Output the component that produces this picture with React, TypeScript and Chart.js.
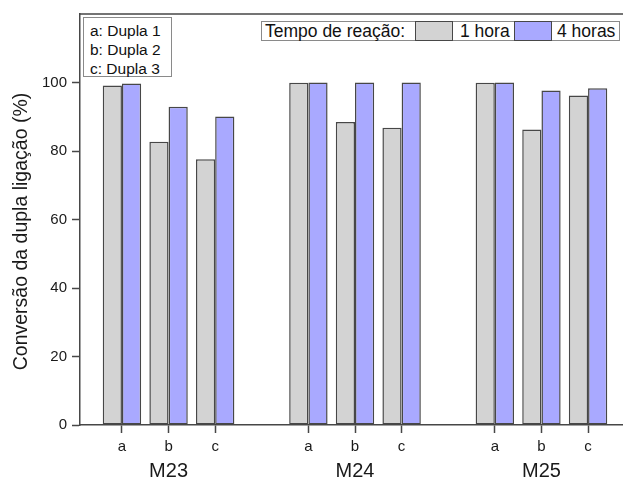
import React, { useEffect, useRef } from 'react';
import { Chart, registerables } from 'chart.js';

Chart.register(...registerables);

// Monomer groups and the three double-bond positions inside each
const groups = ['M23', 'M24', 'M25'];
const pairs = ['a', 'b', 'c'];
const pairNames = ['Dupla 1', 'Dupla 2', 'Dupla 3'];
const seriesNames = ['1 hora', '4 horas'];
const legendTitle = 'Tempo de reação:';
const yTitle = 'Conversão da dupla ligação (%)';

// Conversion (%) per bar, ordered M23 a,b,c / M24 a,b,c / M25 a,b,c
const conversion1h = [99.1, 82.7, 77.6, 99.9, 88.5, 86.8, 99.9, 86.3, 96.2];
const conversion4h = [99.7, 92.9, 90.1, 100, 100, 100, 100, 97.7, 98.3];
const yTicks = [0, 20, 40, 60, 80, 100];

const FONT = '"Liberation Sans", Arial, Helvetica, sans-serif';
const GRAY = '#d3d3d3';
const BLUE = '#a9a9ff';
const EDGE = '#474747';
const TEXT = '#1a1a1a';

// x slot of each bar pair: one empty slot separates the groups
const slotOf = (i: number) => Math.floor(i / pairs.length) * (pairs.length + 1) + (i % pairs.length);
const barSlots = conversion1h.map((_, i) => slotOf(i));
const groupSlots = groups.map((_, g) => g * (pairs.length + 1) + 1);
const X_MIN = -0.9;
const X_MAX = barSlots[barSlots.length - 1] + 0.9;

const framePlugin = {
  id: 'frame',
  afterDatasetsDraw(chart: any) {
    const { ctx, chartArea } = chart;
    const { left, top, right, bottom } = chartArea;
    ctx.save();
    ctx.strokeStyle = EDGE;
    ctx.lineWidth = 1.5;
    ctx.beginPath();
    ctx.moveTo(left, top);
    ctx.lineTo(right, top);
    ctx.lineTo(right, bottom);
    ctx.stroke();
    ctx.restore();
  },
};

const yTitlePlugin = {
  id: 'yTitle',
  afterDraw(chart: any) {
    const { ctx, chartArea } = chart;
    ctx.save();
    ctx.translate(22, (chartArea.top + chartArea.bottom) / 2 + 12);
    ctx.rotate(-Math.PI / 2);
    ctx.font = `19.5px ${FONT}`;
    ctx.fillStyle = TEXT;
    ctx.textAlign = 'center';
    ctx.textBaseline = 'middle';
    ctx.fillText(yTitle, 0, 0);
    ctx.restore();
  },
};

export default function App() {
  const canvasRef = useRef<HTMLCanvasElement | null>(null);

  useEffect(() => {
    const canvas = canvasRef.current;
    if (!canvas) return;

    const chart = new Chart(canvas, {
      type: 'bar',
      data: {
        datasets: [
          {
            label: seriesNames[0],
            data: barSlots.map((x, i) => ({ x, y: conversion1h[i] })),
            backgroundColor: GRAY,
            borderColor: EDGE,
            borderWidth: 1.5,
            borderSkipped: false,
            xAxisID: 'x',
          },
          {
            label: seriesNames[1],
            data: barSlots.map((x, i) => ({ x, y: conversion4h[i] })),
            backgroundColor: BLUE,
            borderColor: EDGE,
            borderWidth: 1.5,
            borderSkipped: false,
            xAxisID: 'x',
          },
        ],
      },
      options: {
        responsive: false,
        maintainAspectRatio: false,
        animation: false,
        devicePixelRatio: 1,
        layout: { padding: { top: 14, right: 10, left: 0, bottom: 0 } },
        datasets: {
          bar: { categoryPercentage: 0.824, barPercentage: 1 },
        },
        plugins: {
          legend: { display: false },
          tooltip: { enabled: false },
          title: { display: false },
        },
        scales: {
          x: {
            type: 'linear',
            position: 'bottom',
            offset: false,
            min: X_MIN,
            max: X_MAX,
            afterBuildTicks: (s: any) => {
              s.ticks = barSlots.map((v) => ({ value: v }));
            },
            afterFit: (s: any) => {
              s.height = 30;
              s.paddingLeft = 0;
              s.paddingRight = 0;
            },
            ticks: {
              autoSkip: false,
              maxRotation: 0,
              padding: 5,
              color: TEXT,
              font: { family: FONT, size: 15 },
              callback: (_v: any, i: number) => pairs[i % pairs.length],
            },
            grid: {
              offset: false,
              drawOnChartArea: false,
              drawTicks: true,
              tickLength: 8,
              tickWidth: 1.5,
              tickColor: EDGE,
            },
            border: { display: true, color: EDGE, width: 1.5 },
          },
          x2: {
            type: 'linear',
            position: 'bottom',
            offset: false,
            min: X_MIN,
            max: X_MAX,
            afterBuildTicks: (s: any) => {
              s.ticks = groupSlots.map((v) => ({ value: v }));
            },
            afterFit: (s: any) => {
              s.height = 25;
              s.paddingLeft = 0;
              s.paddingRight = 0;
            },
            ticks: {
              autoSkip: false,
              maxRotation: 0,
              padding: 4,
              color: TEXT,
              font: { family: FONT, size: 20 },
              callback: (_v: any, i: number) => groups[i],
            },
            grid: { display: false, drawTicks: false, offset: false },
            border: { display: false },
          },
          y: {
            type: 'linear',
            min: 0,
            max: 120,
            afterBuildTicks: (s: any) => {
              s.ticks = yTicks.map((v) => ({ value: v }));
            },
            afterFit: (s: any) => {
              s.width = 80;
            },
            ticks: {
              padding: 5,
              color: TEXT,
              font: { family: FONT, size: 15 },
            },
            grid: {
              drawOnChartArea: false,
              drawTicks: true,
              tickLength: 8,
              tickWidth: 1.5,
              tickColor: EDGE,
            },
            border: { display: true, color: EDGE, width: 1.5 },
          },
        },
      },
      plugins: [framePlugin, yTitlePlugin],
    } as any);

    return () => chart.destroy();
  }, []);

  const txt: React.CSSProperties = {
    position: 'absolute',
    fontFamily: FONT,
    color: '#111',
    whiteSpace: 'nowrap',
  };
  const swatch = (left: number, color: string): React.CSSProperties => ({
    position: 'absolute',
    left,
    top: 21,
    width: 38,
    height: 20,
    boxSizing: 'border-box',
    border: `1.5px solid ${EDGE}`,
    background: color,
  });

  return (
    <div
      style={{
        position: 'absolute',
        left: 0,
        top: 0,
        width: 623,
        height: 480,
        overflow: 'hidden',
        background: '#fff',
      }}
    >
      <canvas
        ref={canvasRef}
        width={640}
        height={480}
        style={{ position: 'absolute', left: 0, top: 0, width: 640, height: 480 }}
      />

      {/* pair legend */}
      <div
        style={{
          position: 'absolute',
          left: 83,
          top: 17,
          width: 89,
          height: 60,
          boxSizing: 'border-box',
          border: '1px solid #8a8a8a',
          background: '#fff',
          paddingTop: 3,
          paddingLeft: 6,
          fontFamily: FONT,
          fontSize: 15.5,
          lineHeight: '19px',
          color: '#111',
          whiteSpace: 'nowrap',
        }}
      >
        {pairs.map((p, i) => (
          <div key={p}>{`${p}: ${pairNames[i]}`}</div>
        ))}
      </div>

      {/* reaction time legend */}
      <div
        style={{
          position: 'absolute',
          left: 261,
          top: 21,
          width: 359,
          height: 20,
          boxSizing: 'border-box',
          border: '1px solid #8a8a8a',
          background: '#fff',
        }}
      />
      <div style={{ ...txt, left: 265, top: 21, height: 20, lineHeight: '20px', fontSize: 17.5 }}>
        {legendTitle}
      </div>
      <div style={swatch(415, GRAY)} />
      <div style={{ ...txt, left: 460, top: 21, height: 20, lineHeight: '20px', fontSize: 17.5 }}>
        {seriesNames[0]}
      </div>
      <div style={swatch(514, BLUE)} />
      <div style={{ ...txt, left: 557, top: 21, height: 20, lineHeight: '20px', fontSize: 17.5 }}>
        {seriesNames[1]}
      </div>
    </div>
  );
}
